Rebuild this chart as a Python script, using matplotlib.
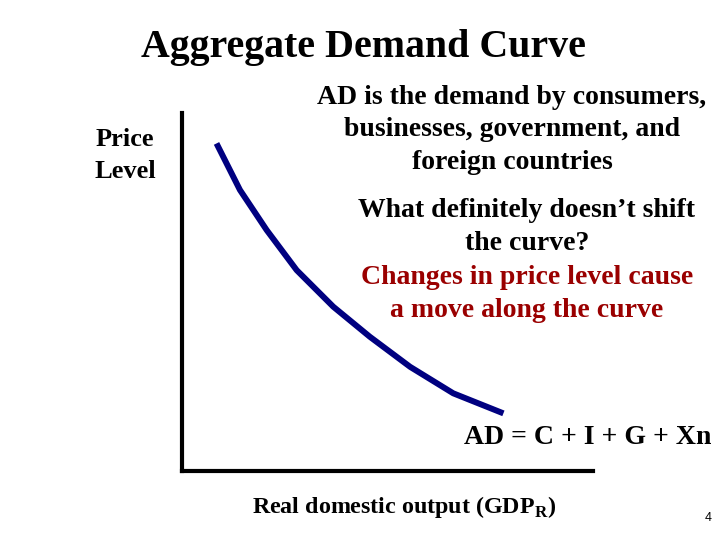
import matplotlib
matplotlib.use("Agg")
import matplotlib.pyplot as plt

# Data: AD curve points (real output, price level) in arbitrary units
output_vals = [0.84, 1.41, 2.06, 2.79, 3.68, 4.57, 5.55, 6.60, 7.82]
price_vals = [9.15, 7.85, 6.73, 5.61, 4.59, 3.75, 2.91, 2.17, 1.61]

title = "Aggregate Demand Curve"
ylabel_text = "Price\nLevel"
xlabel_main = "Real domestic output (GDP$_{\\mathbf{R}}$)"
desc_black = "AD is the demand by consumers,\nbusinesses, government, and\nforeign countries"
q_black = "What definitely doesn\u2019t shift\nthe curve?"
q_red = "Changes in price level cause\na move along the curve"
equation = "AD = C + I + G + Xn"
page_no = "4"

plt.rcParams['font.family'] = ['Liberation Serif', 'DejaVu Serif']
plt.rcParams['mathtext.fontset'] = 'custom'
plt.rcParams['mathtext.rm'] = 'Liberation Serif'
plt.rcParams['mathtext.bf'] = 'Liberation Serif:bold'

fig = plt.figure(figsize=(7.2, 5.4), dpi=100)
fig.patch.set_facecolor('white')

ax = fig.add_axes([182/720, 1 - 471/540, (593-182)/720, (471-113)/540])
ax.set_xlim(0, 10)
ax.set_ylim(0, 10)
ax.plot(output_vals, price_vals, color='#000080', lw=4.3, solid_capstyle='butt')
for s in ['top', 'right']:
    ax.spines[s].set_visible(False)
for s in ['left', 'bottom']:
    ax.spines[s].set_linewidth(3)
    ax.spines[s].set_color('black')
ax.set_xticks([])
ax.set_yticks([])
ax.patch.set_alpha(0)

fig.text(363/720, 1 - 48/540, title, ha='center', va='center', fontsize=28.7, fontweight='bold')
fig.text(125/720, 1 - 156/540, ylabel_text, ha='center', va='center', fontsize=19, fontweight='bold', linespacing=1.5)
fig.text(512/720, 1 - 130/540, desc_black, ha='center', va='center', fontsize=20, fontweight='bold', linespacing=1.38)
fig.text(527/720, 1 - 227/540, q_black, ha='center', va='center', fontsize=20, fontweight='bold', linespacing=1.38)
fig.text(527/720, 1 - 294/540, q_red, ha='center', va='center', fontsize=20, fontweight='bold', color='#9a0000', linespacing=1.38)
fig.text(588/720, 1 - 437/540, equation, ha='center', va='center', fontsize=20, fontweight='bold')
fig.text(252/720, 1 - 507/540, xlabel_main, ha='left', va='center', fontsize=17.3, fontweight='bold')
fig.text(708/720, 1 - 518/540, page_no, ha='center', va='center', fontsize=9, family=['Liberation Sans', 'DejaVu Sans'])

fig.savefig('out.png', dpi=100, facecolor='white')
